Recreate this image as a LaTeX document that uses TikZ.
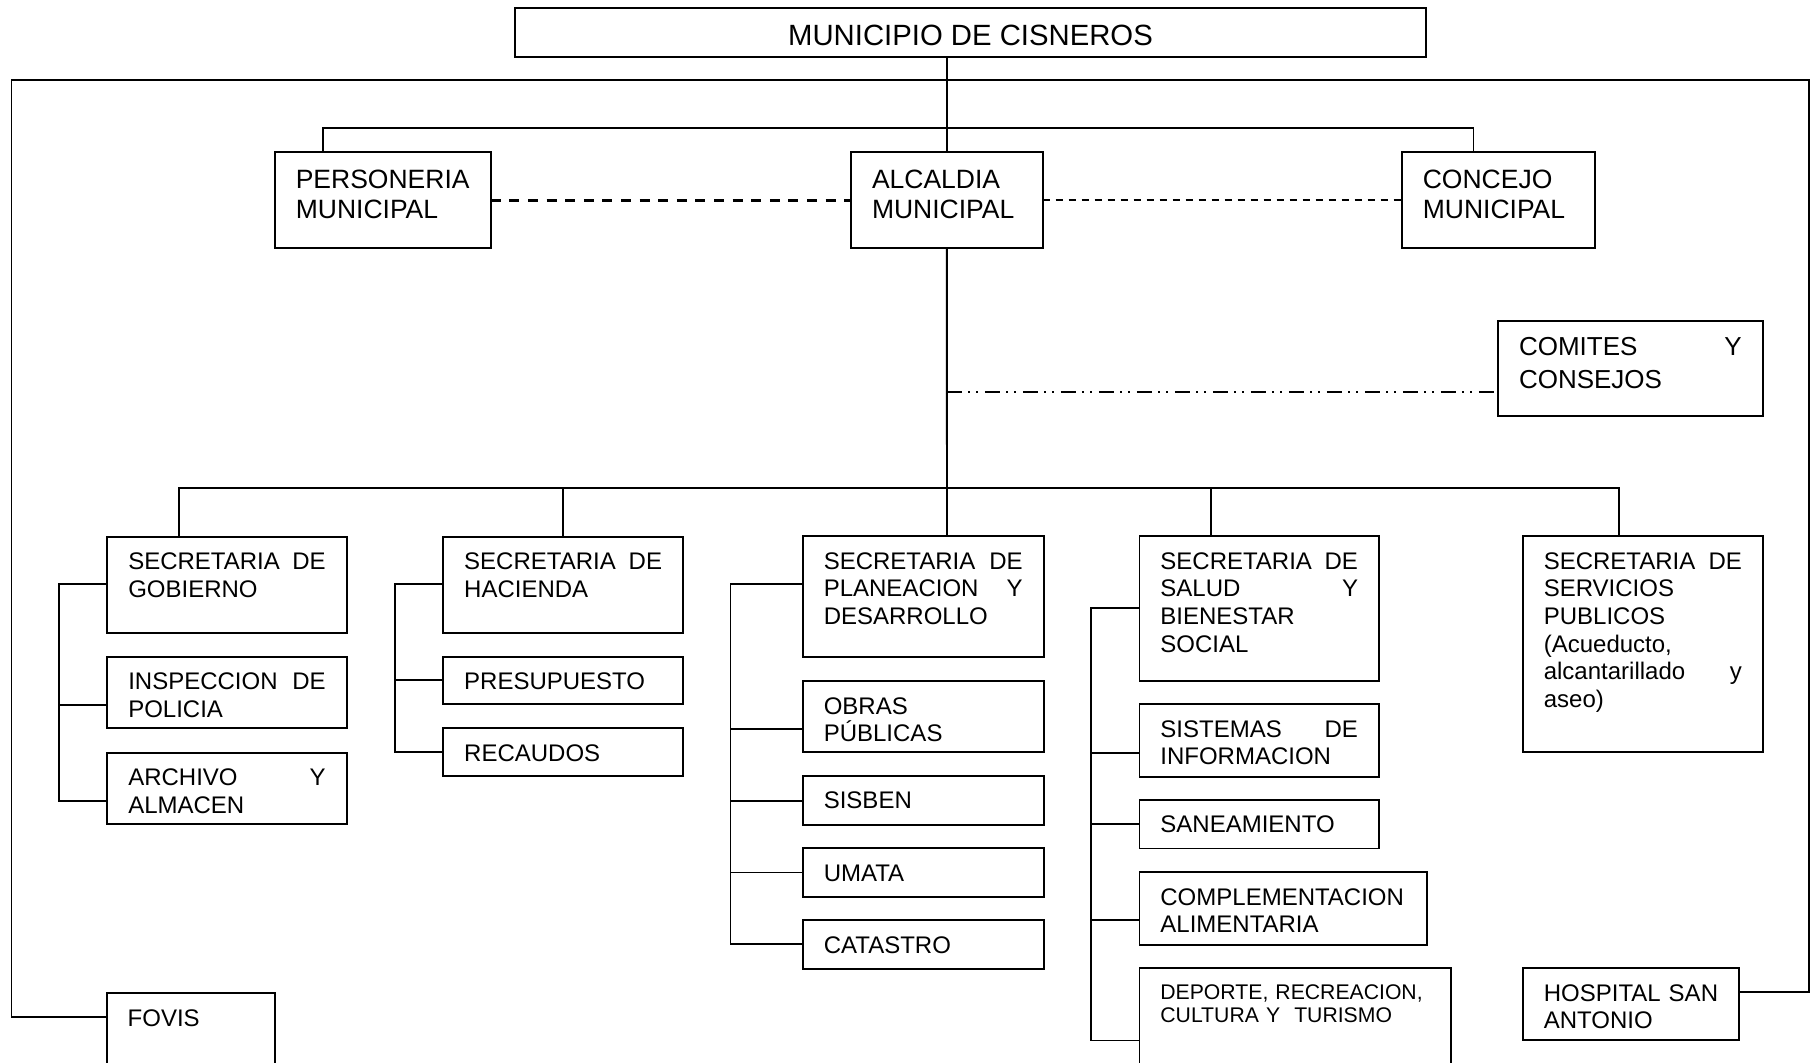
\documentclass[tikz,border=0pt]{standalone}
\usepackage{fontspec}
\setmainfont{Liberation Sans}
\usetikzlibrary{calc,fit}
\hyphenpenalty=10000
\exhyphenpenalty=10000
\tikzset{
  orgbox/.style={draw, line width=0.9pt, inner sep=0pt, outer sep=0pt},
  orgtxt/.style={inner sep=0pt, outer sep=0pt, align=left},
  conn/.style={line width=0.9pt},
  fbody/.style={font=\fontsize{12}{13.85}\selectfont},
  ftop/.style={font=\fontsize{13.25}{15}\selectfont},
  fcom/.style={font=\fontsize{13}{16.2}\selectfont},
  fsmall/.style={font=\fontsize{10.6}{11.65}\selectfont},
  ftitle/.style={font=\fontsize{14.65}{17}\selectfont},
}
\newcommand\obox[8]{%
  \node[orgbox, fit={(#2,#3)(#4,#5)}] (#1) {};
  \pgfmathsetlengthmacro\otw{(#4-#2-42)*0.5pt}%
  \node[orgtxt, #7, text width=\otw, anchor=base west] (#1-t) at ($(#1.north west)+(21,#6)$) {#8};
}
\begin{document}
\begin{tikzpicture}[x=0.5pt,y=-0.5pt]
\useasboundingbox (0,0) rectangle (1811,1063);
\clip (0,0) rectangle (1811,1063);

% title
\node[orgbox, fit={(515,8.3)(1426,56.7)}] (title) {};
\node[orgtxt, ftitle, anchor=base] (title-t) at ($(title.north)+(0,37.7)$) {MUNICIPIO DE CISNEROS};

% top row
\obox{pers}{274.8}{152}{490.8}{248.3}{36.3}{ftop}{PERSONERIA\\MUNICIPAL}
\obox{alc}{851}{152}{1042.7}{248.3}{36.3}{ftop}{ALCALDIA\\MUNICIPAL}
\obox{conc}{1401.8}{152}{1594.7}{248.3}{36.3}{ftop}{CONCEJO\\MUNICIPAL}
\obox{com}{1498}{320.7}{1762.6}{416}{35.3}{fcom}{COMITES\hfill Y\\CONSEJOS}

% secretarias
\obox{gob}{107.3}{536.7}{346.7}{632.7}{32.8}{fbody}{SECRETARIA\hfill DE\\GOBIERNO}
\obox{insp}{107.3}{656.7}{346.7}{728.3}{32.8}{fbody}{INSPECCION\hfill DE\\POLICIA}
\obox{arch}{107.3}{752.7}{346.7}{824.3}{32.8}{fbody}{ARCHIVO\hfill Y\\ALMACEN}

\obox{hac}{443.2}{536.7}{683.1}{632.7}{32.8}{fbody}{SECRETARIA\hfill DE\\HACIENDA}
\obox{pres}{443.2}{656.7}{683.1}{704}{32.8}{fbody}{PRESUPUESTO}
\obox{rec}{443.2}{728.3}{683.1}{776.3}{32.8}{fbody}{RECAUDOS}

\obox{plan}{802.8}{536}{1043.7}{656.8}{33.2}{fbody}{SECRETARIA\hfill DE\\PLANEACION\hfill Y\\DESARROLLO}
\obox{obras}{802.8}{680.9}{1043.7}{752.3}{33.2}{fbody}{OBRAS\\PÚBLICAS}
\obox{sis}{802.8}{776}{1043.7}{824.8}{33}{fbody}{SISBEN}
\obox{uma}{802.8}{848.1}{1043.7}{896.9}{33}{fbody}{UMATA}
\obox{cat}{802.8}{920.2}{1043.7}{969.1}{33}{fbody}{CATASTRO}

\obox{sal}{1139.4}{536}{1379}{680.9}{33.2}{fbody}{SECRETARIA\hfill DE\\SALUD\hfill Y\\BIENESTAR\\SOCIAL}
\obox{sist}{1139.4}{704.2}{1379}{776.7}{33}{fbody}{SISTEMAS\hfill DE\\INFORMACION}
\obox{san}{1139.4}{800}{1379}{848.5}{33}{fbody}{SANEAMIENTO}
\obox{comp}{1139.4}{872.2}{1427}{944.7}{33}{fbody}{COMPLEMENTACION\\ALIMENTARIA}
\obox{dep}{1139.4}{968.3}{1451}{1100}{31}{fsmall}{DEPORTE, RECREACION,\\CULTURA Y~ TURISMO}

\obox{serv}{1522.8}{536}{1763}{751.9}{33.2}{fbody}{SECRETARIA\hfill DE\\SERVICIOS\\PUBLICOS\\(Acueducto,\\alcantarillado\hfill y\\aseo)}
\obox{hosp}{1522.8}{968.3}{1738.7}{1040}{32.7}{fbody}{HOSPITAL~SAN\\ANTONIO}
\obox{fovis}{106.7}{992.7}{275}{1100}{33.3}{fbody}{FOVIS}

% outer frame
\coordinate (fl) at (11.5,80);
\coordinate (fr) at (1809,80);
\coordinate (fovc) at ($(fovis.north west)+(0,24)$);
\coordinate (hosc) at ($(hosp.north east)+(0,23.7)$);
\draw[conn] (fovc) -| (fl) -- (fr) |- (hosc);

% main vertical
\draw[conn] (alc.north |- title.south) -- (alc.north);
\coordinate (pk) at (323.3,128);
\coordinate (ck) at (1473.4,128);
\draw[conn] (pk |- pers.north) -- (pk) -- (ck) -- (ck |- conc.north);

% dashed relations
\draw[line width=1.5pt, dash pattern=on 5pt off 4.3pt] (pers.east) -- (alc.west);
\draw[line width=1pt, dash pattern=on 3.5pt off 3pt] (alc.east) -- (conc.west);
\coordinate (cm) at ($(com.north west)+(0,71.6)$);
\draw[line width=0.9pt, dash pattern=on 7.5pt off 3.25pt on 1pt off 3pt on 1pt off 3.25pt] (alc.south |- cm) -- (cm);

% branch line
\coordinate (b1) at (179.1,488.2);
\coordinate (b2) at (563,488.2);
\coordinate (b3) at (946.9,488.2);
\coordinate (b4) at (1211,488.2);
\coordinate (b5) at (1619.2,488.2);
\draw[conn] (alc.south) -- (b3);
\draw[conn] (b1 |- gob.north) -- (b1) -- (b5) -- (b5 |- serv.north);
\draw[conn] (b2) -- (b2 |- hac.north);
\draw[conn] (b3) -- (b3 |- plan.north);
\draw[conn] (b4) -- (b4 |- sal.north);

% gobierno bracket
\coordinate (gx) at (59.1,0);
\coordinate (g1) at ($(gob.north west)+(0,47.6)$);
\coordinate (g2) at ($(insp.north west)+(0,48.3)$);
\coordinate (g3) at ($(arch.north west)+(0,48)$);
\draw[conn] (g1) -| (gx |- g3) -- (g3);
\draw[conn] (g2) -- (gx |- g2);

% hacienda bracket
\coordinate (hx) at (395,0);
\coordinate (h1) at ($(hac.north west)+(0,47.6)$);
\coordinate (h2) at ($(pres.north west)+(0,23.7)$);
\coordinate (h3) at ($(rec.north west)+(0,24)$);
\draw[conn] (h1) -| (hx |- h3) -- (h3);
\draw[conn] (h2) -- (hx |- h2);

% planeacion bracket
\coordinate (px) at (730.5,0);
\coordinate (p1) at ($(plan.north west)+(0,48.3)$);
\coordinate (p2) at ($(obras.north west)+(0,48.1)$);
\coordinate (p3) at ($(sis.north west)+(0,24.8)$);
\coordinate (p4) at ($(uma.north west)+(0,24.4)$);
\coordinate (p5) at ($(cat.north west)+(0,24.1)$);
\draw[conn] (p1) -| (px |- p5) -- (p5);
\draw[conn] (p2) -- (px |- p2);
\draw[conn] (p3) -- (px |- p3);
\draw[conn] (p4) -- (px |- p4);

% salud bracket
\coordinate (sx) at (1091.2,0);
\coordinate (s1) at ($(sal.north west)+(0,72.4)$);
\coordinate (s2) at ($(sist.north west)+(0,48.5)$);
\coordinate (s3) at ($(san.north west)+(0,24.4)$);
\coordinate (s4) at ($(comp.north west)+(0,48)$);
\coordinate (s5) at ($(dep.north west)+(0,72.2)$);
\draw[conn] (s1) -| (sx |- s5) -- (s5);
\draw[conn] (s2) -- (sx |- s2);
\draw[conn] (s3) -- (sx |- s3);
\draw[conn] (s4) -- (sx |- s4);
\end{tikzpicture}
\end{document}
